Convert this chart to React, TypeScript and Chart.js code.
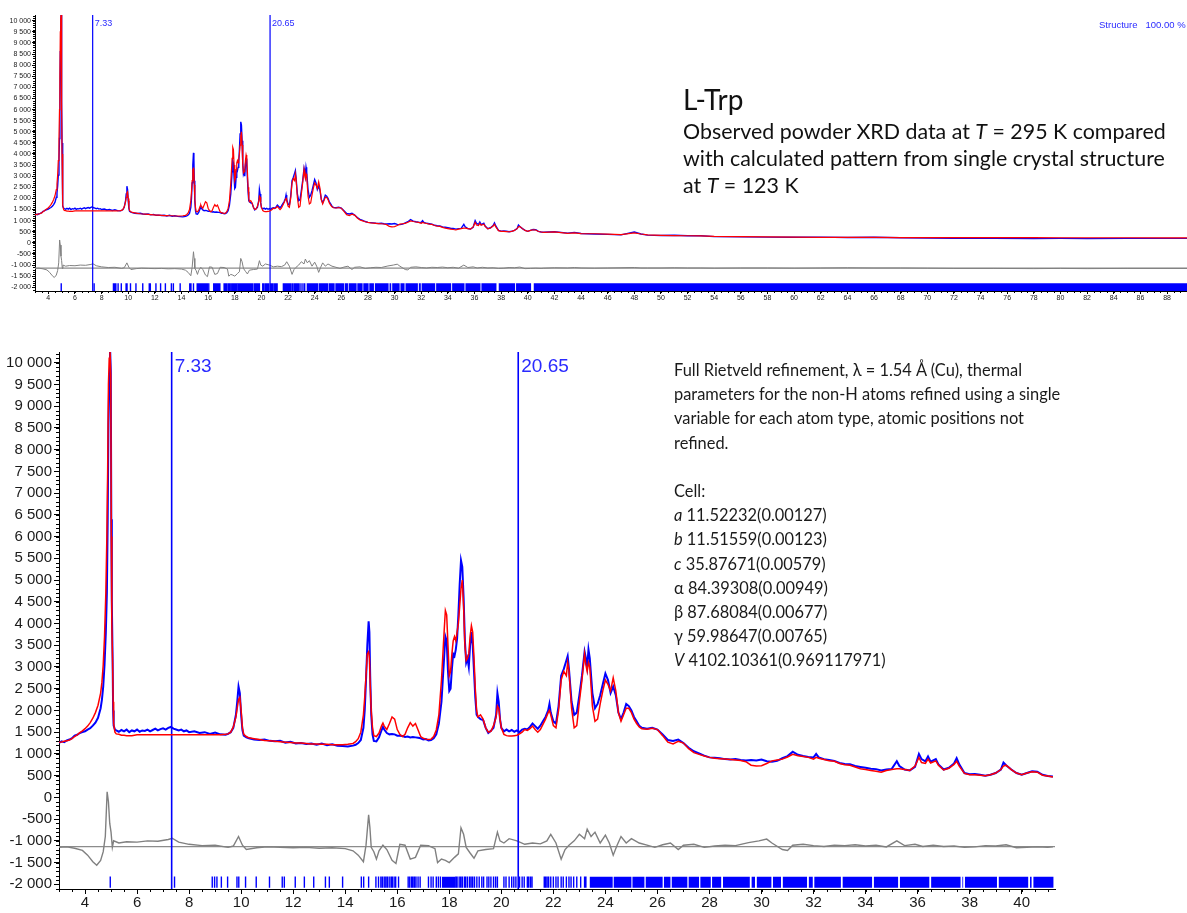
import React, { useEffect, useRef } from "react";
import { Chart, registerables } from "chart.js";

Chart.register(...registerables);

// ---------- data (2θ in degrees, intensity in counts) ----------
const obsX = [
  3.0, 3.1, 3.2, 3.3, 3.4, 3.5, 3.6, 3.7, 3.8, 3.9, 4.0, 4.1, 4.2, 4.3, 4.4, 4.5, 4.6, 4.65, 4.7, 4.75,
  4.8, 4.84, 4.87, 4.9, 4.93, 4.96, 4.99, 5.01, 5.03, 5.06, 5.08, 5.1, 5.15, 5.2, 5.3, 5.4, 5.5, 5.6, 5.7, 5.8,
  5.9, 6.0, 6.1, 6.2, 6.3, 6.4, 6.5, 6.6, 6.7, 6.8, 6.9, 7.0, 7.1, 7.2, 7.3, 7.4, 7.5, 7.6, 7.7, 7.8,
  7.9, 8.0, 8.2, 8.4, 8.6, 8.8, 9.0, 9.2, 9.4, 9.5, 9.6, 9.7, 9.8, 9.85, 9.9, 9.95, 10.0, 10.05, 10.1, 10.2,
  10.3, 10.5, 10.7, 10.9, 11.1, 11.3, 11.5, 11.7, 11.9, 12.1, 12.3, 12.5, 12.7, 12.9, 13.1, 13.3, 13.5, 13.7, 13.9, 14.1,
  14.3, 14.4, 14.5, 14.6, 14.7, 14.75, 14.8, 14.85, 14.9, 14.93, 14.96, 15.0, 15.05, 15.1, 15.2, 15.3, 15.4, 15.45, 15.5, 15.6,
  15.7, 15.8, 15.9, 16.0, 16.1, 16.2, 16.3, 16.4, 16.5, 16.6, 16.7, 16.8, 16.9, 17.0, 17.1, 17.2, 17.3, 17.4, 17.5, 17.6,
  17.7, 17.8, 17.85, 17.9, 17.95, 18.0, 18.05, 18.1, 18.15, 18.2, 18.25, 18.3, 18.35, 18.4, 18.45, 18.5, 18.55, 18.6, 18.65, 18.7,
  18.75, 18.8, 18.85, 18.9, 18.95, 19.0, 19.05, 19.1, 19.2, 19.3, 19.4, 19.5, 19.6, 19.7, 19.8, 19.85, 19.9, 19.95, 20.0, 20.1,
  20.2, 20.3, 20.4, 20.5, 20.6, 20.7, 20.8, 20.9, 21.0, 21.1, 21.2, 21.3, 21.4, 21.5, 21.6, 21.7, 21.8, 21.85, 21.9, 22.0,
  22.1, 22.2, 22.3, 22.4, 22.5, 22.55, 22.6, 22.7, 22.8, 22.9, 23.0, 23.1, 23.2, 23.25, 23.3, 23.35, 23.4, 23.5, 23.6, 23.7,
  23.8, 23.9, 24.0, 24.1, 24.2, 24.3, 24.4, 24.5, 24.6, 24.7, 24.8, 24.9, 25.0, 25.1, 25.2, 25.3, 25.4, 25.6, 25.8, 26.0,
  26.2, 26.4, 26.6, 26.8, 27.0, 27.2, 27.4, 27.6, 27.8, 28.0, 28.2, 28.4, 28.6, 28.8, 29.0, 29.2, 29.4, 29.6, 29.8, 30.0,
  30.2, 30.4, 30.6, 30.8, 31.0, 31.2, 31.4, 31.6, 31.8, 32.0, 32.1, 32.2, 32.4, 32.6, 32.8, 33.0, 33.2, 33.4, 33.6, 33.8,
  34.0, 34.2, 34.4, 34.6, 34.8, 35.0, 35.2, 35.3, 35.5, 35.7, 35.9, 36.05, 36.15, 36.3, 36.4, 36.5, 36.7, 36.8, 37.0, 37.2,
  37.4, 37.5, 37.6, 37.8, 38.0, 38.2, 38.4, 38.6, 38.8, 39.0, 39.2, 39.3, 39.4, 39.6, 39.8, 40.0, 40.2, 40.4, 40.6, 40.8,
  41.0, 41.2,
];
const obsY = [
  1250, 1290, 1270, 1310, 1330, 1360, 1420, 1440, 1480, 1500, 1520, 1560, 1590, 1650, 1720, 1830, 2050, 2250, 2550, 3050,
  3800, 4700, 6300, 8600, 9600, 10400, 9800, 6400, 4500, 3200, 2000, 1650, 1560, 1540, 1510, 1550, 1520, 1560, 1500, 1540,
  1520, 1560, 1510, 1540, 1530, 1560, 1520, 1550, 1580, 1540, 1570, 1590, 1560, 1600, 1620, 1580, 1560, 1540, 1560, 1520,
  1540, 1500, 1520, 1480, 1500, 1460, 1490, 1450, 1440, 1460, 1500, 1600, 1900, 2200, 2550, 2400, 1900, 1550, 1420, 1380,
  1360, 1330, 1320, 1330, 1300, 1290, 1300, 1260, 1280, 1240, 1250, 1230, 1240, 1210, 1240, 1200, 1220, 1190, 1180, 1170,
  1190, 1210, 1250, 1320, 1600, 2000, 2700, 3500, 4050, 3800, 2800, 1900, 1450, 1300, 1290, 1380, 1550, 1620, 1560, 1480,
  1450, 1460, 1450, 1420, 1420, 1410, 1390, 1400, 1380, 1390, 1380, 1370, 1360, 1330, 1340, 1310, 1320, 1360, 1450, 1700,
  2200, 3200, 3700, 3600, 2900, 2450, 2500, 2950, 3300, 3250, 3400, 3650, 4200, 4900, 5450, 5300, 4600, 3600, 3100, 3200,
  3000, 3500, 3800, 3500, 2900, 2300, 1900, 1850, 1800, 1780, 1600, 1480, 1530, 1600, 1900, 2400, 2200, 1800, 1600, 1520,
  1560, 1520, 1550, 1510, 1540, 1500, 1560, 1580, 1560, 1620, 1700, 1640, 1580, 1650, 1750, 1850, 2000, 2150, 1950, 1750,
  1700, 2100, 2800, 2950, 3150, 3250, 2950, 2200, 1900, 1950, 2350, 2800, 3350, 3200, 3000, 3400, 3200, 2400, 2050, 2150,
  2350, 2600, 2850, 2700, 2400, 2550, 2350, 1950, 1800, 1950, 2150, 2100, 2000, 1850, 1750, 1650, 1600, 1580, 1600, 1560,
  1450, 1320, 1300, 1330, 1250, 1140, 1060, 1010, 960, 920, 910, 900, 880, 870, 880, 860, 850, 860, 850, 870,
  830, 820, 840, 900, 950, 1050, 980, 950, 930, 920, 1000, 920, 880, 860, 840, 790, 770, 760, 720, 700,
  680, 660, 650, 620, 640, 650, 830, 720, 640, 620, 700, 1000, 880, 830, 940, 820, 880, 760, 640, 680,
  780, 900, 760, 560, 530, 540, 520, 500, 520, 560, 640, 800, 740, 640, 560, 520, 560, 600, 590, 520,
  490, 480,
];
const calcY = [
  1270, 1275, 1290, 1300, 1320, 1350, 1400, 1440, 1490, 1530, 1580, 1640, 1720, 1820, 1950, 2120, 2400, 2650, 3050, 3700,
  4700, 6000, 7500, 9500, 10100, 10300, 9700, 6000, 4000, 3100, 2200, 1700, 1500, 1460, 1450, 1430, 1430, 1420, 1420, 1420,
  1430, 1440, 1440, 1440, 1440, 1440, 1440, 1440, 1440, 1440, 1440, 1440, 1440, 1440, 1440, 1440, 1440, 1440, 1440, 1440,
  1440, 1440, 1440, 1440, 1440, 1440, 1440, 1440, 1450, 1460, 1500, 1620, 1850, 2050, 2250, 2300, 2000, 1600, 1450, 1400,
  1370, 1350, 1330, 1310, 1300, 1290, 1280, 1270, 1260, 1250, 1250, 1240, 1230, 1230, 1220, 1220, 1210, 1210, 1210, 1220,
  1240, 1280, 1350, 1500, 1900, 2300, 2800, 3300, 3350, 3200, 2600, 2000, 1600, 1420, 1400, 1480, 1650, 1710, 1640, 1560,
  1700, 1850, 1800, 1560, 1450, 1400, 1450, 1600, 1720, 1640, 1700, 1550, 1400, 1360, 1340, 1330, 1340, 1400, 1550, 1900,
  2700, 3800, 4300, 4200, 3500, 2800, 2900, 3300, 3600, 3700, 3600, 3800, 4000, 4400, 4800, 5000, 4400, 3500, 3150, 3200,
  3300, 3700, 3950, 3800, 3200, 2500, 2000, 1850, 1900, 1800, 1600, 1500, 1520, 1650, 1850, 2100, 2050, 1800, 1600, 1450,
  1420, 1410, 1410, 1420, 1430, 1460, 1500, 1560, 1540, 1580, 1640, 1560, 1500, 1560, 1680, 1800, 1950, 2000, 1900, 1650,
  1600, 2000, 2700, 2900, 2800, 3100, 2900, 2050, 1600, 1650, 2200, 2700, 3300, 3050, 2900, 3100, 3000, 2100, 1750, 1800,
  2150, 2450, 2700, 2600, 2450, 2750, 2450, 1950, 1750, 1900, 2050, 2050, 1950, 1800, 1700, 1620, 1580, 1570, 1590, 1560,
  1420, 1270, 1230, 1290, 1250, 1120, 1030, 990, 950, 920, 900, 890, 880, 870, 860, 850, 820, 740, 720, 730,
  780, 840, 860, 880, 930, 990, 960, 940, 920, 880, 920, 900, 870, 840, 830, 780, 750, 740, 700, 660,
  640, 620, 600, 580, 620, 640, 660, 660, 640, 620, 720, 920, 800, 780, 880, 790, 840, 740, 630, 670,
  760, 830, 720, 550, 520, 520, 510, 500, 520, 560, 640, 720, 740, 640, 560, 520, 560, 590, 580, 510,
  490, 470,
];
const diffX = [
  3.0, 3.3, 3.6, 3.9, 4.1, 4.3, 4.45, 4.6, 4.7, 4.78, 4.85, 4.9, 4.95, 5.0, 5.05, 5.1, 5.3, 5.6, 6.0, 6.4,
  6.8, 7.2, 7.35, 7.6, 8.0, 8.5, 9.0, 9.5, 9.7, 9.9, 10.05, 10.2, 10.6, 11.0, 11.5, 12.0, 12.5, 13.0, 13.5, 14.0,
  14.3, 14.5, 14.7, 14.8, 14.9, 14.95, 15.0, 15.1, 15.2, 15.3, 15.45, 15.6, 15.8, 15.95, 16.1, 16.3, 16.5, 16.7, 16.9, 17.2,
  17.45, 17.55, 17.7, 17.85, 18.0, 18.2, 18.35, 18.45, 18.55, 18.65, 18.8, 18.95, 19.1, 19.4, 19.7, 19.85, 19.95, 20.1, 20.3, 20.6,
  20.9, 21.2, 21.5, 21.75, 21.9, 22.1, 22.3, 22.45, 22.6, 22.8, 23.0, 23.2, 23.3, 23.45, 23.6, 23.8, 24.0, 24.15, 24.3, 24.45,
  24.6, 24.8, 25.0, 25.3, 25.6, 25.9, 26.2, 26.5, 26.8, 27.0, 27.4, 27.8, 28.2, 28.6, 29.0, 29.5, 29.9, 30.2, 30.4, 30.8,
  31.0, 31.2, 31.6, 32.0, 32.4, 32.8, 33.2, 33.6, 34.0, 34.4, 34.8, 35.2, 35.5, 35.9, 36.2, 36.6, 37.0, 37.4, 37.8, 38.2,
  38.6, 39.0, 39.4, 39.8, 40.2, 40.6, 41.0, 41.2,
];
const diffY = [
  -1150, -1140, -1170, -1220, -1330, -1480, -1560, -1450, -1250, -900, 130, -100, -600, -800, -1150, -1000, -1050, -1020, -1030, -1000,
  -1010, -970, -940, -1030, -1080, -1110, -1100, -1150, -1120, -900, -1100, -1200, -1160, -1140, -1150, -1160, -1150, -1170, -1160, -1180,
  -1230, -1330, -1480, -1100, -400, -700, -1150, -1250, -1420, -1230, -1100, -1200, -1450, -1520, -1080, -1100, -1420, -1380, -1100, -1110,
  -1180, -1500, -1420, -1450, -1500, -1380, -1300, -700, -850, -1150, -1280, -1400, -1230, -1200, -1180, -800, -1000, -1050, -950, -1000,
  -1080, -1050, -1070, -1000, -850, -1050, -1420, -1200, -1100, -1000, -850, -950, -730, -900, -800, -1050, -870, -1050, -1330, -1100,
  -900, -1050, -950, -1050, -1100, -1150, -1090, -1050, -1200, -1100, -1080, -1150, -1120, -1100, -1110, -1040, -1000, -960, -1050, -1200,
  -1220, -1100, -1080, -1110, -1130, -1100, -1110, -1090, -1120, -1100, -1140, -1000, -1110, -1080, -1130, -1100, -1130, -1120, -1150, -1140,
  -1110, -1120, -1090, -1160, -1150, -1140, -1150, -1140,
];
// wide-range (overview) continuation beyond 41.2°
const extX = [41.2, 42, 43, 43.5, 44, 45, 46, 47, 48, 48.5, 49, 50, 51, 52, 53, 54, 56, 58, 60, 62, 64, 66, 68, 70, 72, 75, 78, 80, 82, 85, 88, 89.6];
const extObsY = [480, 500, 440, 470, 420, 400, 380, 360, 490, 400, 350, 330, 340, 320, 320, 280, 270, 260, 250, 260, 240, 250, 230, 220, 210, 200, 190, 200, 190, 200, 200, 200];
const extCalcY = [470, 490, 430, 450, 420, 410, 390, 370, 450, 400, 360, 340, 330, 320, 310, 290, 280, 270, 260, 250, 245, 245, 240, 240, 240, 235, 235, 230, 230, 230, 225, 225];
const extDiffY = [-1140, -1120, -1130, -1110, -1130, -1140, -1130, -1120, -1110, -1130, -1130, -1130, -1120, -1130, -1130, -1140, -1130, -1130, -1140, -1130, -1120, -1130, -1130, -1140, -1150, -1150, -1160, -1150, -1160, -1150, -1150, -1150];

// reflection (hkl) positions
const reflTicks = [
  4.97, 7.44, 8.89, 8.98, 9.07, 9.24, 9.48, 9.84, 9.91, 10.17, 10.58, 11.09, 11.58, 11.66, 12.08, 12.43, 12.79, 13.24, 13.39, 13.9,
  14.62, 14.71, 14.9, 15.18, 15.28, 15.37, 15.43, 15.5, 15.56, 15.62, 15.69, 15.76, 15.81, 15.88, 15.94, 16.05, 16.42, 16.48, 16.55, 16.6,
  16.66, 16.72, 16.8, 16.88, 17.2, 17.3, 17.38, 17.5, 17.58, 17.66, 18.25, 18.3, 18.38, 18.44, 18.5, 18.58, 18.63, 18.7, 18.78, 18.84,
  18.9, 18.97, 19.06, 19.15, 19.25, 19.32, 19.45, 19.52, 19.6, 19.7, 19.78, 19.85, 20.1, 20.18, 20.3, 20.4, 20.48, 20.56, 20.7, 20.8,
  20.88, 21.0, 21.05, 21.12, 21.18, 21.65, 21.7, 21.76, 21.82, 21.9, 22.0, 22.1, 22.18, 22.3, 22.38, 22.5, 22.6, 22.68, 22.78, 22.9,
  23.05, 23.2, 23.25,
];
const reflBands = [
  [17.72, 18.22], [23.4, 24.28], [24.32, 25.0], [25.04, 25.5], [25.55, 26.2], [26.25, 26.5], [26.55, 27.15], [27.2, 27.6],
  [27.65, 28.05], [28.1, 28.45], [28.52, 29.55], [29.62, 29.75], [29.82, 30.38], [30.44, 30.75], [30.82, 31.75], [31.82, 31.97],
  [32.03, 33.05], [33.12, 34.25], [34.32, 35.25], [35.32, 36.45], [36.52, 37.65], [37.72, 37.75], [37.82, 39.05], [39.12, 40.25],
  [40.32, 40.38], [40.45, 41.22],
];
const extBands = [[41.22, 90]];
const markers = [7.33, 20.65];
const diffBaseline = -1135;
const yTicks = [-2000, -1500, -1000, -500, 0, 500, 1000, 1500, 2000, 2500, 3000, 3500, 4000, 4500, 5000, 5500, 6000, 6500, 7000, 7500, 8000, 8500, 9000, 9500, 10000];
const xTickStep = 2;
const yMinorStep = 100;
const xMinorStep = 0.5;

// ---------- helpers ----------
const fmtThousands = (v: number) => {
  const a = String(Math.abs(Math.round(v))).replace(/\B(?=(\d{3})+(?!\d))/g, " ");
  return (v < 0 ? "-" : "") + a;
};
const pts = (xs: number[], ys: number[]) => xs.map((x, i) => ({ x, y: ys[i] }));

type Panel = {
  top: number; height: number; width: number;
  xMin: number; xMax: number; yMin: number; yMax: number;
  padTop: number; padRight: number; yAxisW: number; xAxisH: number;
  tickFont: number; majorLen: number; minorLen: number; tickPad: number;
  markerFont: string; markerDx: number; markerDy: number;
  reflTop: number; reflBot: number; bandMid: number; bandPx: number;
  extended: boolean; lwObs: number; lwCalc: number; lwDiff: number; lwMark: number;
};

const decorPlugin = {
  id: "pxrdDecor",
  afterDatasetsDraw(chart: any, _a: any, o: any) {
    const { ctx, chartArea: ca, scales } = chart;
    const xs = scales.x, ys = scales.y;
    ctx.save();
    ctx.strokeStyle = "#000";
    ctx.lineWidth = 1;
    ctx.beginPath();
    for (let i = Math.ceil(ys.min / yMinorStep); i <= Math.floor(ys.max / yMinorStep); i++) {
      const p = Math.round(ys.getPixelForValue(i * yMinorStep)) + 0.5;
      ctx.moveTo(ca.left - o.minorLen, p);
      ctx.lineTo(ca.left, p);
    }
    for (let i = Math.ceil(xs.min / xMinorStep); i <= Math.floor(xs.max / xMinorStep); i++) {
      const p = Math.round(xs.getPixelForValue(i * xMinorStep)) + 0.5;
      ctx.moveTo(p, ca.bottom);
      ctx.lineTo(p, ca.bottom + o.minorLen);
    }
    ctx.stroke();
    ctx.fillStyle = "#2a2aff";
    ctx.font = o.markerFont;
    ctx.textBaseline = "alphabetic";
    for (const m of markers) {
      ctx.fillText(String(m), xs.getPixelForValue(m) + o.markerDx, ca.top + o.markerDy);
    }
    ctx.restore();
  },
};

function buildConfig(p: Panel): any {
  const ox = p.extended ? obsX.concat(extX.slice(1)) : obsX;
  const oy = p.extended ? obsY.concat(extObsY.slice(1)) : obsY;
  const cy = p.extended ? calcY.concat(extCalcY.slice(1)) : calcY;
  const dx = p.extended ? diffX.concat(extX.slice(1)) : diffX;
  const dy = p.extended ? diffY.concat(extDiffY.slice(1)) : diffY;
  const bands = p.extended ? reflBands.concat(extBands) : reflBands;

  const tickPts: any[] = [];
  reflTicks.forEach((t) => {
    tickPts.push({ x: t, y: p.reflTop }, { x: t, y: p.reflBot }, { x: t, y: null });
  });
  const bandPts: any[] = [];
  bands.forEach(([a, b]) => {
    bandPts.push({ x: a, y: p.bandMid }, { x: b, y: p.bandMid }, { x: b, y: null });
  });
  const markPts: any[] = [];
  markers.forEach((m) => {
    markPts.push({ x: m, y: p.yMin }, { x: m, y: p.yMax }, { x: m, y: null });
  });

  const base = { showLine: true, pointRadius: 0, pointHoverRadius: 0, fill: false, tension: 0 };
  const font = { family: "'Liberation Sans', Arial, sans-serif", size: p.tickFont };
  return {
    type: "scatter",
    data: {
      datasets: [
        { ...base, label: "calc", data: pts(ox, cy), borderColor: "#ff0000", borderWidth: p.lwCalc, order: 0 },
        { ...base, label: "obs", data: pts(ox, oy), borderColor: "#0000ff", borderWidth: p.lwObs, order: 1 },
        { ...base, label: "markers", data: markPts, borderColor: "#0000ff", borderWidth: p.lwMark, order: 2 },
        { ...base, label: "diff", data: pts(dx, dy), borderColor: "#808080", borderWidth: p.lwDiff, order: 3 },
        {
          ...base, label: "zero",
          data: [{ x: p.xMin, y: diffBaseline }, { x: p.xMax, y: diffBaseline }],
          borderColor: "#8c8c8c", borderWidth: 1.2, order: 4,
        },
        { ...base, label: "hkl", data: tickPts, borderColor: "#0000ff", borderWidth: 1.4, order: 5 },
        { ...base, label: "hklBand", data: bandPts, borderColor: "#0000ff", borderWidth: p.bandPx, borderCapStyle: "butt", order: 6 },
      ],
    },
    options: {
      responsive: false,
      animation: false,
      devicePixelRatio: 1,
      spanGaps: false,
      layout: { padding: { top: p.padTop, right: p.padRight, left: 0, bottom: 0 } },
      plugins: {
        legend: { display: false },
        tooltip: { enabled: false },
        pxrdDecor: { minorLen: p.minorLen, markerFont: p.markerFont, markerDx: p.markerDx, markerDy: p.markerDy },
      },
      scales: {
        x: {
          type: "linear", min: p.xMin, max: p.xMax,
          border: { display: true, color: "#000", width: 1 },
          grid: { display: true, drawOnChartArea: false, drawTicks: true, tickLength: p.majorLen, color: "#000" },
          ticks: {
            stepSize: xTickStep, includeBounds: false, autoSkip: false, maxRotation: 0, minRotation: 0,
            color: "#1a1a1a", font, padding: 0, callback: (v: number) => String(v),
          },
          afterFit: (s: any) => { s.height = p.xAxisH; },
        },
        y: {
          type: "linear", min: p.yMin, max: p.yMax,
          border: { display: true, color: "#000", width: 1 },
          grid: { display: true, drawOnChartArea: false, drawTicks: true, tickLength: p.majorLen, color: "#000" },
          ticks: {
            autoSkip: false,
            color: "#1a1a1a", font, padding: p.tickPad, callback: (v: number) => fmtThousands(v),
          },
          afterBuildTicks: (s: any) => { s.ticks = yTicks.map((v) => ({ value: v })); },
          afterFit: (s: any) => { s.width = p.yAxisW; },
        },
      },
    },
    plugins: [decorPlugin],
  };
}

const topPanel: Panel = {
  top: 0, height: 310, width: 1187,
  xMin: 3, xMax: 89.5, yMin: -2167, yMax: 10257,
  padTop: 15, padRight: 0, yAxisW: 35, xAxisH: 19,
  tickFont: 7, majorLen: 3, minorLen: 2, tickPad: 1,
  markerFont: "9px 'Liberation Sans', Arial, sans-serif", markerDx: 2, markerDy: 11,
  reflTop: -1818, reflBot: -2167, bandMid: -1995, bandPx: 8,
  extended: true, lwObs: 1.4, lwCalc: 1.2, lwDiff: 1, lwMark: 1.2,
};
const bottomPanel: Panel = {
  top: 340, height: 573, width: 1187,
  xMin: 3, xMax: 41.28, yMin: -2108, yMax: 10246,
  padTop: 12, padRight: 132, yAxisW: 59, xAxisH: 24,
  tickFont: 15, majorLen: 5, minorLen: 3, tickPad: 2,
  markerFont: "19px 'Liberation Sans', Arial, sans-serif", markerDx: 3, markerDy: 20,
  reflTop: -1820, reflBot: -2080, bandMid: -1955, bandPx: 11,
  extended: false, lwObs: 2, lwCalc: 1.5, lwDiff: 1.4, lwMark: 1.6,
};

function PatternChart({ panel }: { panel: Panel }) {
  const ref = useRef<HTMLCanvasElement | null>(null);
  useEffect(() => {
    if (!ref.current) return;
    const chart = new Chart(ref.current, buildConfig(panel));
    return () => chart.destroy();
  }, [panel]);
  return (
    <canvas
      ref={ref}
      width={panel.width}
      height={panel.height}
      style={{ position: "absolute", left: 0, top: panel.top, width: panel.width, height: panel.height }}
    />
  );
}

const textFont = "Lato, 'Open Sans', sans-serif";

export default function App() {
  return (
    <div style={{ position: "absolute", left: 0, top: 0, width: 1187, height: 913, background: "#fff", overflow: "hidden" }}>
      <PatternChart panel={topPanel} />
      <PatternChart panel={bottomPanel} />
      <div style={{ position: "absolute", left: 1099, top: 19, font: "9.5px 'Liberation Sans', Arial, sans-serif", color: "#2a2aff", whiteSpace: "pre" }}>
        {"Structure   100.00 %"}
      </div>
      <div style={{ position: "absolute", left: 683, top: 83, fontFamily: textFont, fontSize: 28, lineHeight: "32px", color: "#111" }}>
        L-Trp
      </div>
      <div style={{ position: "absolute", left: 683, top: 118, fontFamily: textFont, fontSize: 21.4, lineHeight: "27px", color: "#111", whiteSpace: "nowrap" }}>
        <div>Observed powder XRD data at <i>T</i> = 295 K compared</div>
        <div>with calculated pattern from single crystal structure</div>
        <div>at <i>T</i> = 123 K</div>
      </div>
      <div style={{ position: "absolute", left: 674, top: 358, fontFamily: textFont, fontSize: 16.4, lineHeight: "24.2px", color: "#1a1a1a", whiteSpace: "nowrap" }}>
        <div>Full Rietveld refinement, λ = 1.54 Å (Cu), thermal</div>
        <div>parameters for the non-H atoms refined using a single</div>
        <div>variable for each atom type, atomic positions not</div>
        <div>refined.</div>
        <div>&nbsp;</div>
        <div>Cell:</div>
        <div><i>a</i> 11.52232(0.00127)</div>
        <div><i>b</i> 11.51559(0.00123)</div>
        <div><i>c</i> 35.87671(0.00579)</div>
        <div>α 84.39308(0.00949)</div>
        <div>β 87.68084(0.00677)</div>
        <div>γ 59.98647(0.00765)</div>
        <div><i>V</i> 4102.10361(0.969117971)</div>
      </div>
    </div>
  );
}
